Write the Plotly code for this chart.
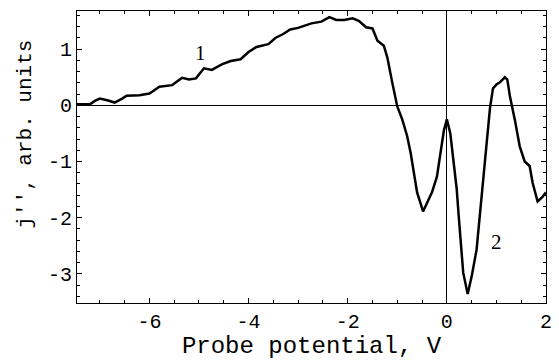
import plotly.graph_objects as go

potential = [-7.46, -7.2, -7.1, -7.0, -6.85, -6.7, -6.55, -6.46, -6.2, -6.0, -5.9, -5.8,
             -5.54, -5.34, -5.2, -5.06, -4.9, -4.74, -4.54, -4.36, -4.16, -4.0, -3.84,
             -3.6, -3.46, -3.3, -3.16, -3.0, -2.73, -2.53, -2.37, -2.23, -2.07, -1.9,
             -1.77, -1.63, -1.5, -1.4, -1.27, -1.2, -1.1, -1.0, -0.9, -0.8, -0.73,
             -0.65, -0.6, -0.48, -0.3, -0.2, -0.12, -0.06, 0.0, 0.07, 0.13, 0.2, 0.24,
             0.33, 0.42, 0.5, 0.6, 0.7, 0.8, 0.87, 0.93, 1.0, 1.07, 1.17, 1.22, 1.27,
             1.37, 1.47, 1.57, 1.67, 1.73, 1.83, 1.93, 2.0]
signal = [0.02, 0.02, 0.08, 0.12, 0.09, 0.05, 0.12, 0.17, 0.18, 0.21, 0.27, 0.33,
          0.36, 0.49, 0.46, 0.48, 0.66, 0.63, 0.73, 0.79, 0.82, 0.95, 1.04,
          1.09, 1.2, 1.27, 1.35, 1.38, 1.46, 1.49, 1.57, 1.52, 1.52, 1.55,
          1.5, 1.39, 1.37, 1.15, 1.06, 0.85, 0.40, -0.02, -0.25, -0.55, -0.85,
          -1.3, -1.55, -1.89, -1.55, -1.27, -0.79, -0.45, -0.25, -0.5, -0.96, -1.5, -1.98,
          -2.98, -3.36, -3.05, -2.57, -1.68, -0.79, -0.05, 0.30, 0.37, 0.41, 0.5, 0.46, 0.17,
          -0.25, -0.73, -1.0, -1.08, -1.38, -1.71, -1.63, -1.55]

x_ticks = [-6, -4, -2, 0, 2]
y_ticks = [-3, -2, -1, 0, 1]
curve_labels = ["1", "2"]
label_x = [-4.96, 1.0]
label_y = [0.94, -2.43]

mono = "Courier New, Liberation Mono, monospace"

fig = go.Figure()
fig.add_trace(go.Scatter(x=potential, y=signal, mode="lines",
                         line=dict(color="black", width=2.5), showlegend=False))

for t, lx, ly in zip(curve_labels, label_x, label_y):
    fig.add_annotation(x=lx, y=ly, text=t, showarrow=False,
                       font=dict(family="Liberation Serif, serif", size=21, color="black"))

axis_common = dict(showline=True, linecolor="black", linewidth=1, mirror="allticks",
                   ticks="inside", ticklen=5, tickcolor="black", showgrid=False,
                   zeroline=True, zerolinecolor="black", zerolinewidth=1,
                   tickfont=dict(family=mono, size=20, color="black"))

fig.update_xaxes(range=[-7.46, 2.0], tickvals=x_ticks,
                 ticktext=[str(v) for v in x_ticks],
                 minor=dict(dtick=0.5, ticks="inside", ticklen=3, tickcolor="black"),
                 title=dict(text="Probe potential, V", font=dict(family=mono, size=24, color="black"),
                            standoff=2),
                 **axis_common)
fig.update_yaxes(range=[-3.52, 1.68], tickvals=y_ticks,
                 ticktext=[str(v) for v in y_ticks],
                 minor=dict(dtick=0.2, ticks="inside", ticklen=3, tickcolor="black"),
                 **axis_common)

# y-axis title placed as annotation to match reference position
fig.add_annotation(xref="paper", yref="paper", x=-(77 - 24) / 475, y=(303 - 134) / 292,
                   text="j'', arb. units", textangle=-90, showarrow=False,
                   xanchor="center", yanchor="middle",
                   font=dict(family=mono, size=21, color="black"))

fig.update_layout(width=559, height=360, margin=dict(l=77, r=7, t=11, b=57),
                  paper_bgcolor="white", plot_bgcolor="white")

fig.write_html("out.html")
